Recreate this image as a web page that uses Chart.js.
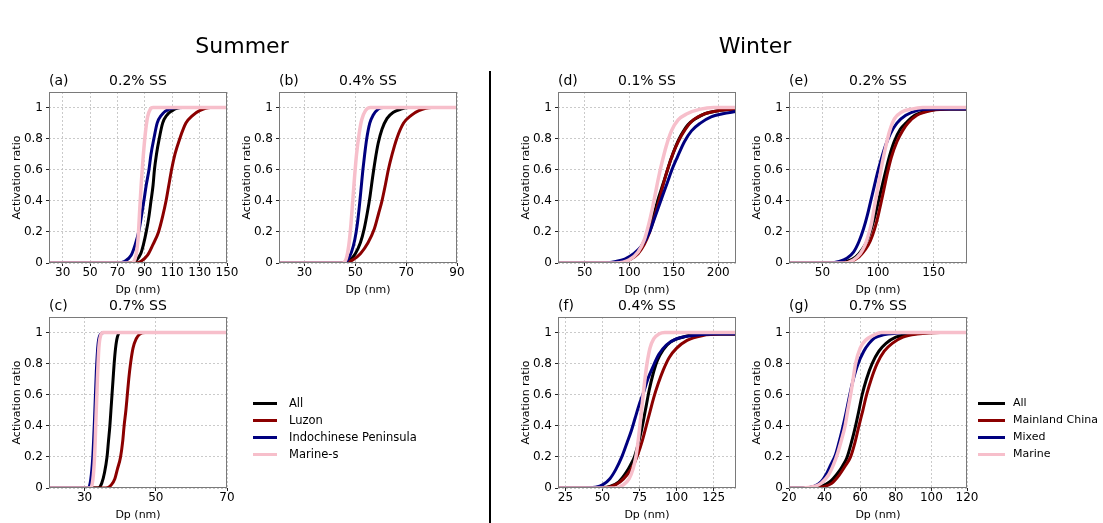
<!DOCTYPE html>
<html><head><meta charset="utf-8">
<script src="https://cdn.jsdelivr.net/npm/chart.js@4"></script>
<style>
html,body{margin:0;padding:0;background:#fff;}
body{width:1103px;height:523px;position:relative;overflow:hidden;font-family:'DejaVu Sans',sans-serif;}
canvas{position:absolute;}
.t{position:absolute;white-space:nowrap;color:#000;}
</style></head><body>
<script>
// ---------- labels ----------
const seasonTitles = ['Summer', 'Winter'];
const summerNames = ['All', 'Luzon', 'Indochinese Peninsula', 'Marine-s'];
const winterNames = ['All', 'Mainland China', 'Mixed', 'Marine'];
const seriesColors = ['#000000', '#8B0000', '#00007F', '#F7BFCB'];
const panelLetters = ['(a)', '(b)', '(c)', '(d)', '(e)', '(f)', '(g)'];
const panelSS = ['0.2% SS', '0.4% SS', '0.7% SS', '0.1% SS', '0.2% SS', '0.4% SS', '0.7% SS'];
const yTickLabels = ['0', '0.2', '0.4', '0.6', '0.8', '1'];
const xTicksA = [30, 50, 70, 90, 110, 130, 150];
const xTicksB = [30, 50, 70, 90];
const xTicksC = [30, 50, 70];
const xTicksD = [50, 100, 150, 200];
const xTicksE = [50, 100, 150];
const xTicksF = [25, 50, 75, 100, 125];
const xTicksG = [20, 40, 60, 80, 100, 120];

// ---------- data: [Dp (nm), activation ratio] ----------
// (a) summer 0.2% SS
const aAll = [[20,0],[80,0],[84,0.02],[87,0.06],[89,0.12],[91,0.2],[93,0.3],[94.5,0.4],[96,0.5],[97,0.6],[98.5,0.7],[100.5,0.8],[103,0.9],[106,0.95],[110,0.98],[116,1],[150,1]];
const aLuzon = [[20,0],[82,0],[87,0.01],[92,0.05],[96,0.12],[100,0.2],[103,0.3],[105.5,0.4],[107.5,0.5],[109.5,0.6],[112,0.7],[115.5,0.8],[120,0.9],[125,0.95],[130,0.98],[138,1],[150,1]];
const aIndo = [[20,0],[70,0],[75,0.01],[80,0.05],[83,0.12],[85.5,0.2],[87.5,0.3],[89.3,0.4],[91,0.5],[93,0.6],[94.5,0.7],[96.6,0.8],[99,0.9],[102,0.95],[108,0.99],[118,1],[150,1]];
const aMarine = [[20,0],[80,0],[83,0.03],[85,0.15],[86.3,0.35],[87.3,0.5],[88.5,0.65],[90.3,0.83],[92,0.94],[94,0.99],[96,1],[150,1]];
// (b) summer 0.4% SS
const bAll = [[20,0],[46,0],[48,0.02],[50,0.06],[52,0.13],[53.5,0.22],[54.8,0.33],[55.8,0.43],[56.8,0.55],[57.8,0.66],[59,0.77],[60.5,0.86],[62.5,0.93],[65,0.97],[68,0.99],[71,1],[90,1]];
const bLuzon = [[20,0],[46,0],[49,0.02],[52,0.06],[55,0.13],[57.5,0.22],[59.2,0.32],[60.5,0.4],[61.8,0.5],[63,0.6],[64.5,0.7],[66.3,0.8],[69,0.9],[72,0.95],[75,0.98],[80,1],[90,1]];
const bIndo = [[20,0],[45,0],[47,0.02],[48.5,0.07],[49.8,0.15],[50.8,0.25],[51.7,0.38],[52.4,0.5],[53,0.6],[53.7,0.7],[54.5,0.8],[55.7,0.9],[57,0.95],[59,0.99],[61,1],[90,1]];
const bMarine = [[20,0],[45,0],[46.5,0.03],[47.5,0.12],[48.3,0.25],[49,0.4],[49.7,0.55],[50.5,0.7],[51.5,0.83],[52.5,0.92],[54,0.98],[56,1],[90,1]];
// (c) summer 0.7% SS
const cAll = [[20,0],[33.8,0],[34.8,0.03],[35.6,0.1],[36.3,0.2],[36.7,0.3],[37.1,0.4],[37.4,0.5],[37.7,0.6],[38,0.7],[38.3,0.8],[38.7,0.9],[39.2,0.97],[40,1],[70,1]];
const cLuzon = [[20,0],[36,0],[37.5,0.02],[38.5,0.06],[39.2,0.12],[40.1,0.2],[40.7,0.3],[41.1,0.4],[41.6,0.5],[42,0.6],[42.4,0.7],[42.9,0.8],[43.6,0.9],[44.5,0.96],[45.5,0.99],[47,1],[70,1]];
const cIndo = [[20,0],[31,0],[31.7,0.05],[32.3,0.2],[32.8,0.45],[33.3,0.75],[33.8,0.93],[34.5,0.99],[35.5,1],[70,1]];
const cMarine = [[20,0],[31.5,0],[32.3,0.05],[32.8,0.2],[33.2,0.45],[33.6,0.7],[34,0.9],[34.5,0.98],[35.2,1],[70,1]];
// (d) winter 0.1% SS
const dAll = [[20,0],[75,0],[95,0.01],[105,0.04],[113,0.1],[119,0.17],[124,0.25],[128.5,0.33],[133,0.42],[137.5,0.5],[142,0.58],[147,0.67],[153,0.76],[158,0.82],[166,0.89],[175,0.93],[185,0.96],[200,0.98],[220,0.99]];
const dMainland = [[20,0],[80,0],[100,0.02],[110,0.06],[117,0.12],[123,0.2],[128,0.29],[133,0.39],[138,0.5],[143,0.6],[149,0.7],[155,0.78],[163,0.86],[172,0.92],[185,0.96],[200,0.98],[220,0.99]];
const dMixed = [[20,0],[70,0],[85,0.01],[95,0.025],[105,0.06],[114,0.11],[123,0.2],[128,0.28],[133,0.36],[138,0.44],[143,0.52],[148,0.6],[154,0.68],[162,0.78],[170,0.85],[180,0.9],[192,0.94],[205,0.96],[220,0.975]];
const dMarine = [[20,0],[85,0],[100,0.02],[110,0.07],[117,0.15],[122,0.25],[126,0.35],[129.5,0.45],[133,0.55],[137,0.65],[141.5,0.75],[147.5,0.85],[155,0.92],[165,0.96],[180,0.99],[195,1],[220,1]];
// (e) winter 0.2% SS
const eAll = [[20,0],[60,0],[72,0.01],[80,0.04],[86,0.09],[90,0.14],[94,0.22],[97.5,0.31],[100.5,0.4],[103.5,0.49],[106.5,0.58],[110,0.68],[114.5,0.78],[120,0.86],[125,0.9],[133,0.95],[145,0.98],[160,0.99],[180,0.99]];
const eMainland = [[20,0],[62,0],[75,0.01],[83,0.04],[89,0.09],[93,0.14],[97,0.22],[100,0.3],[102.5,0.38],[105.5,0.48],[108.5,0.58],[112,0.68],[117,0.78],[122,0.85],[127,0.9],[135,0.95],[148,0.98],[165,0.99],[180,0.99]];
const eMixed = [[20,0],[55,0],[65,0.01],[72,0.03],[78,0.07],[83,0.14],[87,0.22],[90.5,0.31],[93.5,0.4],[96.5,0.49],[99.5,0.58],[103,0.67],[107,0.76],[111,0.83],[117,0.9],[125,0.95],[135,0.98],[150,0.99],[180,0.99]];
const eMarine = [[20,0],[70,0],[78,0.02],[84,0.06],[88,0.11],[91,0.17],[94,0.25],[96.5,0.35],[99,0.45],[101.5,0.55],[104,0.65],[107,0.75],[110.5,0.85],[115,0.93],[121,0.97],[130,0.99],[140,1],[180,1]];
// (f) winter 0.4% SS
const fAll = [[20,0],[45,0],[55,0.01],[61,0.04],[66,0.1],[69,0.15],[71.5,0.2],[74,0.28],[76,0.36],[77.5,0.43],[79.5,0.53],[81.5,0.63],[84,0.73],[87,0.82],[91,0.89],[96,0.94],[104,0.97],[115,0.99],[140,0.99]];
const fMainland = [[20,0],[45,0],[56,0.01],[62,0.04],[67,0.09],[71,0.15],[74,0.22],[77,0.31],[79.5,0.4],[82,0.49],[84.5,0.58],[87.5,0.67],[91,0.76],[95,0.84],[100,0.9],[107,0.95],[117,0.98],[130,0.99],[140,0.99]];
const fMixed = [[20,0],[38,0],[45,0.005],[50,0.02],[55,0.06],[59,0.12],[63,0.2],[66.5,0.29],[69.5,0.37],[72,0.45],[74.5,0.53],[77.5,0.61],[80.5,0.7],[84,0.78],[88,0.86],[93,0.92],[100,0.96],[110,0.98],[125,0.99],[140,0.99]];
const fMarine = [[20,0],[58,0],[64,0.02],[68,0.06],[70.5,0.12],[72.5,0.2],[74,0.3],[75.2,0.4],[76.3,0.5],[77.4,0.6],[78.6,0.7],[80,0.8],[82,0.9],[84.5,0.96],[88,0.99],[92,1],[140,1]];
// (g) winter 0.7% SS
const gAll = [[20,0],[32,0],[38,0.01],[43,0.04],[47,0.09],[50,0.14],[52.7,0.2],[55,0.29],[57.4,0.4],[59.3,0.5],[61.1,0.6],[63.5,0.7],[66.7,0.8],[70.5,0.88],[74.5,0.93],[80,0.97],[88,0.99],[100,1],[120,1]];
const gMainland = [[20,0],[32,0],[40,0.01],[44,0.03],[48,0.08],[51.5,0.14],[54.6,0.2],[57,0.29],[59.3,0.4],[61.5,0.5],[63.6,0.6],[66.2,0.7],[69.5,0.8],[73.5,0.88],[78,0.93],[84,0.97],[92,0.99],[105,1],[120,1]];
const gMixed = [[20,0],[28,0],[34,0.01],[38,0.04],[41,0.09],[43.5,0.15],[46,0.21],[48,0.29],[50,0.38],[51.8,0.47],[53.6,0.57],[55.5,0.67],[58.5,0.79],[62,0.88],[65,0.93],[68,0.965],[73,0.985],[80,0.995],[90,1],[120,1]];
const gMarine = [[20,0],[28,0],[34,0.01],[38,0.03],[42,0.08],[45,0.15],[47.5,0.23],[49.5,0.31],[51.5,0.4],[53,0.5],[54.6,0.6],[56,0.7],[57.4,0.8],[60,0.9],[63,0.95],[67,0.98],[72,1],[120,1]];

// ---------- layout ----------
const FONT = "'DejaVu Sans', sans-serif";
Chart.defaults.font.family = FONT;
Chart.defaults.color = '#000';

const panels = [
  {L:49,  T:92,  xmin:20, xmax:150, ticks:xTicksA, series:[aAll,aLuzon,aIndo,aMarine], names:summerNames},
  {L:279, T:92,  xmin:20, xmax:90,  ticks:xTicksB, series:[bAll,bLuzon,bIndo,bMarine], names:summerNames},
  {L:49,  T:317, xmin:20, xmax:70,  ticks:xTicksC, series:[cAll,cLuzon,cIndo,cMarine], names:summerNames},
  {L:558, T:92,  xmin:20, xmax:220, ticks:xTicksD, series:[dAll,dMainland,dMixed,dMarine], names:winterNames},
  {L:789, T:92,  xmin:20, xmax:180, ticks:xTicksE, series:[eAll,eMainland,eMixed,eMarine], names:winterNames},
  {L:558, T:317, xmin:20, xmax:140, ticks:xTicksF, series:[fAll,fMainland,fMixed,fMarine], names:winterNames},
  {L:789, T:317, xmin:20, xmax:120, ticks:xTicksG, series:[gAll,gMainland,gMixed,gMarine], names:winterNames}
];
const PW = 178, PH = 171, LM = 50, RM = 20, TM = 22, BM = 34;

const framePlugin = {
  id: 'frame',
  afterDatasetsDraw(chart) {
    const {ctx, chartArea: a} = chart;
    ctx.save();
    ctx.strokeStyle = '#7a7a7a';
    ctx.lineWidth = 1;
    ctx.strokeRect(Math.round(a.left) + 0.5, Math.round(a.top) + 0.5, Math.round(a.right - a.left) - 1, Math.round(a.bottom - a.top) - 1);
    ctx.restore();
  }
};

function addText(txt, left, top, size, extra) {
  const d = document.createElement('div');
  d.className = 't';
  d.textContent = txt;
  d.style.left = left + 'px';
  d.style.top = top + 'px';
  d.style.fontSize = size + 'px';
  d.style.lineHeight = size + 'px';
  if (extra) Object.assign(d.style, extra);
  document.body.appendChild(d);
  return d;
}

panels.forEach((p, idx) => {
  const cv = document.createElement('canvas');
  const w = PW + LM + RM, h = PH + TM + BM;
  cv.width = w; cv.height = h;
  cv.style.left = (p.L - LM) + 'px';
  cv.style.top = (p.T - TM) + 'px';
  cv.style.width = w + 'px'; cv.style.height = h + 'px';
  document.body.appendChild(cv);

  const datasets = p.series.map((s, i) => ({
    label: p.names[i],
    data: s.map(pt => ({x: pt[0], y: pt[1]})),
    borderColor: seriesColors[i],
    backgroundColor: seriesColors[i],
    borderWidth: i === 3 ? 3.5 : 3,
    pointRadius: 0,
    fill: false,
    cubicInterpolationMode: 'monotone',
    clip: 0,
    order: 3 - i
  }));

  const grid = {color: '#bdbdbd', lineWidth: 0.8, tickLength: 3, tickColor: '#222', tickWidth: 1, tickBorderDash: []};
  new Chart(cv, {
    type: 'line',
    data: {datasets},
    plugins: [framePlugin],
    options: {
      responsive: false, animation: false, events: [],
      devicePixelRatio: 1,
      layout: {padding: {left: 0, right: RM, top: 0, bottom: 0}},
      plugins: {
        legend: {display: false},
        tooltip: {enabled: false},
        title: {display: true, text: panelSS[idx], fullSize: false, align: 'center',
          font: {size: 14, weight: 'normal', family: FONT, lineHeight: 1.1}, color: '#000', padding: {top: 4, bottom: 2.6}}
      },
      scales: {
        x: {
          type: 'linear', min: p.xmin, max: p.xmax,
          afterBuildTicks: ax => { ax.ticks = p.ticks.map(v => ({value: v})); },
          afterFit: s => { s.height = BM; },
          ticks: {font: {size: 12}, color: '#000', padding: 0, maxRotation: 0, autoSkip: false, callback: v => String(v)},
          grid: grid,
          border: {display: false, dash: [2, 2]},
          title: {display: true, text: 'Dp (nm)', font: {size: 11}, color: '#000', padding: {top: 3, bottom: 0}}
        },
        y: {
          type: 'linear', min: 0, max: 1.1,
          afterBuildTicks: ax => { ax.ticks = yTickLabels.map(v => ({value: parseFloat(v)})); },
          afterFit: s => { s.width = LM; },
          ticks: {font: {size: 12}, color: '#000', padding: 3, autoSkip: false,
            callback: v => { const k = yTickLabels.find(t => Math.abs(parseFloat(t) - v) < 1e-9); return k === undefined ? '' : k; }},
          grid: grid,
          border: {display: false, dash: [2, 2]},
          title: {display: true, text: 'Activation ratio', font: {size: 11}, color: '#000', padding: {top: 11.5, bottom: 0}}
        }
      }
    }
  });

  addText(panelLetters[idx], p.L, p.T - 19, 14);
});

// season titles and divider
addText(seasonTitles[0], 242, 35, 22, {transform: 'translateX(-50%)'});
addText(seasonTitles[1], 755, 35, 22, {transform: 'translateX(-50%)'});
const vline = document.createElement('div');
Object.assign(vline.style, {position: 'absolute', left: '489px', top: '71px', width: '2px', height: '452px', background: '#000'});
document.body.appendChild(vline);

// legends
function addLegend(names, lineX, lineW, textX, rowYs, size) {
  names.forEach((n, i) => {
    const ln = document.createElement('div');
    Object.assign(ln.style, {position: 'absolute', left: lineX + 'px', top: (rowYs[i] - 1.5) + 'px', width: lineW + 'px', height: '3px', background: seriesColors[i]});
    document.body.appendChild(ln);
    addText(n, textX, rowYs[i] - 7, size, {lineHeight: '14px'});
  });
}
addLegend(summerNames, 253, 24, 289, [403, 420, 437, 454], 11.5);
addLegend(winterNames, 978, 27, 1013, [403, 420, 437, 454], 11);
</script>
</body></html>
